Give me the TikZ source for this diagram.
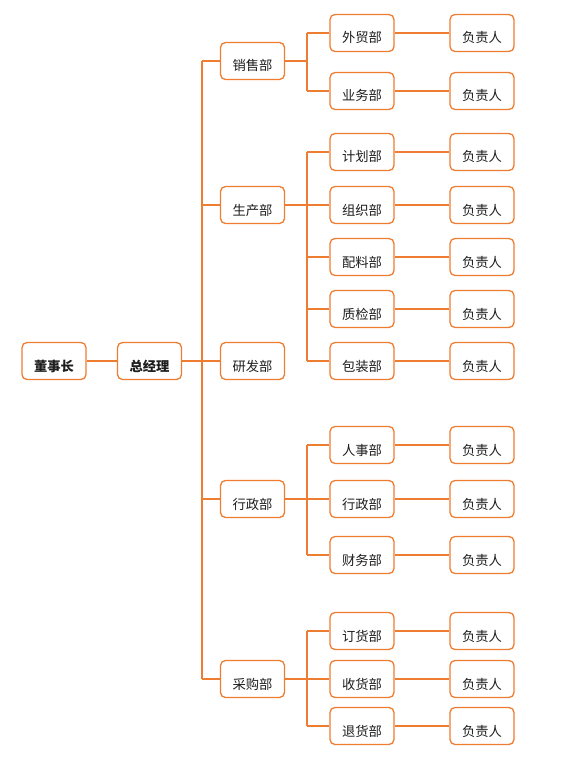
\documentclass[tikz,border=0pt]{standalone}
\usepackage{fontspec}
\newfontfamily\cjk{Noto Sans CJK SC}
\definecolor{org}{HTML}{EE7D31}
\definecolor{txt}{HTML}{1E1E1E}
\begin{document}
\begin{tikzpicture}[x=1pt,y=-1pt,
  box/.style={draw=org, line width=1.3pt, rounded corners=5pt, fill=white,
    minimum width=64pt, minimum height=37pt, inner xsep=0pt, inner ysep=0pt,
    text height=22pt, text depth=2pt, text=txt,
    font=\cjk\fontsize{13.3}{13}\selectfont},
  bbox/.style={box, font=\cjk\bfseries\fontsize{13.3}{13}\selectfont},
  conn/.style={draw=org, line width=1.7pt}]
\useasboundingbox[fill=white] (0,0) rectangle (561,767);
% level 0/1
\node[bbox] (dsz) at (54,361) {董事长};
\node[bbox] (zjl) at (149.5,361) {总经理};
% level 2
\node[box] (xs) at (252.5,61) {销售部};
\node[box] (sc) at (252.5,205) {生产部};
\node[box] (yf) at (252.5,361) {研发部};
\node[box] (xz) at (252.5,499) {行政部};
\node[box] (cg) at (252.5,679) {采购部};
% level 3
\node[box] (a1) at (362,33) {外贸部};
\node[box] (a2) at (362,91) {业务部};
\node[box] (b1) at (362,152) {计划部};
\node[box] (b2) at (362,205) {组织部};
\node[box] (b3) at (362,257) {配料部};
\node[box] (b4) at (362,309) {质检部};
\node[box] (b5) at (362,361) {包装部};
\node[box] (c1) at (362,445) {人事部};
\node[box] (c2) at (362,499) {行政部};
\node[box] (c3) at (362,555) {财务部};
\node[box] (d1) at (362,631) {订货部};
\node[box] (d2) at (362,679) {收货部};
\node[box] (d3) at (362,726) {退货部};
% level 4
\foreach \n/\y in {a1/33,a2/91,b1/152,b2/205,b3/257,b4/309,b5/361,c1/445,c2/499,c3/555,d1/631,d2/679,d3/726}{
  \node[box] (p\n) at (482,\y) {负责人};
  \draw[conn] (\n) -- (p\n);
}
% coordinates
\coordinate (ttop) at (202,61);
\coordinate (tmid) at (202,361);
\coordinate (tbot) at (202,679);
\coordinate (t2) at (202,205);
\coordinate (t4) at (202,499);
\draw[conn] (dsz) -- (zjl);
\draw[conn] (zjl) -- (tmid);
\draw[conn] (ttop) -- (tbot);
\draw[conn] (ttop) -- (xs);
\draw[conn] (t2) -- (sc);
\draw[conn] (tmid) -- (yf);
\draw[conn] (t4) -- (xz);
\draw[conn] (tbot) -- (cg);
% sub buses
\coordinate (sa) at (307,61);
\coordinate (sa1) at (307,33);
\coordinate (sa2) at (307,91);
\draw[conn] (xs) -- (sa);
\draw[conn] (sa1) -- (sa2);
\draw[conn] (sa1) -- (a1);
\draw[conn] (sa2) -- (a2);
\coordinate (sb1) at (307,152);
\coordinate (sb3) at (307,257);
\coordinate (sb4) at (307,309);
\coordinate (sb5) at (307,361);
\draw[conn] (sc) -- (b2);
\draw[conn] (sb1) -- (sb5);
\draw[conn] (sb1) -- (b1);
\draw[conn] (sb3) -- (b3);
\draw[conn] (sb4) -- (b4);
\draw[conn] (sb5) -- (b5);
\coordinate (sc1) at (307,445);
\coordinate (sc3) at (307,555);
\draw[conn] (xz) -- (c2);
\draw[conn] (sc1) -- (sc3);
\draw[conn] (sc1) -- (c1);
\draw[conn] (sc3) -- (c3);
\coordinate (sd1) at (307,631);
\coordinate (sd3) at (307,726);
\draw[conn] (cg) -- (d2);
\draw[conn] (sd1) -- (sd3);
\draw[conn] (sd1) -- (d1);
\draw[conn] (sd3) -- (d3);
\end{tikzpicture}
\end{document}
